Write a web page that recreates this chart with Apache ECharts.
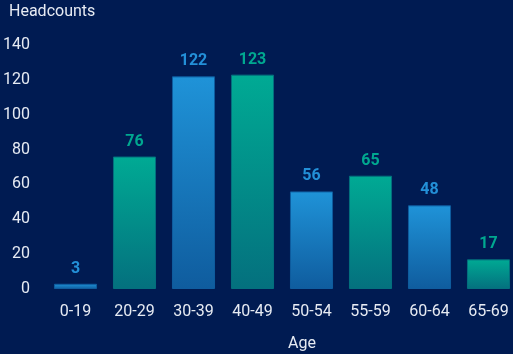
<!DOCTYPE html>
<html>
<head>
<meta charset="utf-8">
<script src="https://cdn.jsdelivr.net/npm/echarts@6/dist/echarts.min.js"></script>
<style>
html, body { margin: 0; padding: 0; background: #001b52; }
#main { width: 513px; height: 354px; }
</style>
</head>
<body>
<div id="main"></div>
<script>
// 数据
var ageGroups = ['0-19', '20-29', '30-39', '40-49', '50-54', '55-59', '60-64', '65-69'];
var headcounts = [3, 76, 122, 123, 56, 65, 48, 17];
var yTicks = [0, 20, 40, 60, 80, 100, 120, 140];

var blue = { top: '#1f93d8', bottom: '#0f5c9e', label: '#2390d8' };
var green = { top: '#00aa94', bottom: '#04707e', label: '#00a890' };

var myChart = echarts.init(document.getElementById('main'));

var barData = headcounts.map(function (v, i) {
	var c = i % 2 === 0 ? blue : green;
	return {
		value: v,
		itemStyle: {
			color: new echarts.graphic.LinearGradient(0, 0, 0, 1, [
				{ offset: 0, color: c.top },
				{ offset: 1, color: c.bottom }
			]),
			borderColor: c.bottom,
			borderWidth: 1
		},
		label: { color: c.label }
	};
});

myChart.setOption({
	backgroundColor: '#001b52',
	textStyle: { fontFamily: 'Roboto' },
	title: {
		text: 'Headcounts',
		left: 4,
		top: -1,
		textStyle: { color: '#e6ebf3', fontSize: 16, fontWeight: 'normal' }
	},
	grid: { left: 46, right: -5, top: 45, bottom: 65, outerBoundsMode: 'none', containLabel: false },
	xAxis: {
		type: 'category',
		data: ageGroups,
		name: 'Age',
		nameLocation: 'middle',
		nameGap: 47,
		nameTextStyle: { color: '#e6ebf3', fontSize: 16, padding: [0, 0, 0, 40] },
		axisLine: { show: false },
		axisTick: { show: false },
		axisLabel: { color: '#e6ebf3', fontSize: 16, margin: 15 }
	},
	yAxis: {
		type: 'value',
		min: yTicks[0],
		max: yTicks[yTicks.length - 1],
		interval: 20,
		splitLine: { show: false },
		axisLine: { show: false },
		axisTick: { show: false },
		axisLabel: { color: '#e6ebf3', fontSize: 16, margin: 16 }
	},
	series: [{
		type: 'bar',
		data: barData,
		barWidth: '73%',
		label: {
			show: true,
			position: 'top',
			distance: 7,
			fontSize: 16,
			fontWeight: 'bold'
		}
	}]
});
</script>
</body>
</html>
